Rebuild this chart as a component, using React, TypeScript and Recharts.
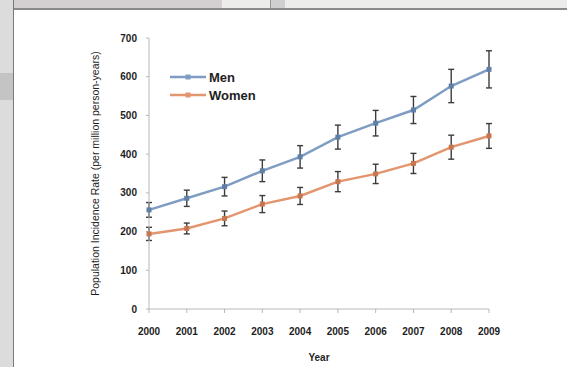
import React from 'react';
import { LineChart, Line, XAxis, YAxis, ErrorBar, Legend } from 'recharts';

// Population incidence rate per million person-years, by year and sex
const years = ['2000', '2001', '2002', '2003', '2004', '2005', '2006', '2007', '2008', '2009'];
const menRate = [256, 286, 316, 357, 393, 444, 480, 514, 576, 619];
const menError = [19, 21, 24, 28, 29, 31, 33, 35, 43, 48];
const womenRate = [194, 208, 234, 271, 292, 329, 349, 376, 418, 447];
const womenError = [17, 14, 19, 22, 22, 26, 25, 26, 31, 32];
const yTicks = [0, 100, 200, 300, 400, 500, 600, 700];

const data = years.map((year, i) => ({
  year,
  Men: menRate[i],
  menErr: menError[i],
  Women: womenRate[i],
  womenErr: womenError[i],
}));

const FONT = 'Arial, "Liberation Sans", sans-serif';
const AXIS_GRAY = '#b8b8b8';
const TEXT = '#1e1e1e';
const MEN = '#7f9dc2';
const WOMEN = '#e3956f';

const YTitle = (props: any) => {
  const vb = props.viewBox || {};
  const cx = vb.x + 6;
  const cy = vb.y + vb.height / 2;
  return (
    <text
      x={cx}
      y={cy}
      transform={`rotate(-90 ${cx} ${cy})`}
      textAnchor="middle"
      dominantBaseline="central"
      fontFamily={FONT}
      fontSize={10.5}
      fill={TEXT}
    >
      Population Incidence Rate (per million person-years)
    </text>
  );
};

const XTitle = (props: any) => {
  const vb = props.viewBox || {};
  return (
    <text
      x={vb.x + vb.width / 2}
      y={vb.y + vb.height + 8}
      textAnchor="middle"
      dominantBaseline="central"
      fontFamily={FONT}
      fontSize={10}
      fontWeight="bold"
      fill={TEXT}
    >
      Year
    </text>
  );
};

const LegendBox = (props: any) => {
  const items = props.payload || [];
  return (
    <div style={{ display: 'flex', flexDirection: 'column', gap: 4 }}>
      {items.map((it: any) => (
        <div key={it.value} style={{ display: 'flex', alignItems: 'center', height: 14 }}>
          <svg width={36} height={10} style={{ marginRight: 3 }}>
            <line x1={0} y1={5} x2={36} y2={5} stroke={it.color} strokeWidth={2.5} />
            <rect x={15.5} y={2.5} width={5} height={5} fill={it.color} />
          </svg>
          <span style={{ fontFamily: FONT, fontSize: 13, fontWeight: 'bold', color: TEXT }}>{it.value}</span>
        </div>
      ))}
    </div>
  );
};

const Square = (color: string) => (props: any) => {
  const { cx, cy, index } = props;
  if (cx == null || cy == null) return <g key={index} />;
  return <rect key={index} x={cx - 2.5} y={cy - 2.5} width={5} height={5} fill={color} />;
};

export default function App() {
  return (
    <div
      style={{
        position: 'absolute',
        left: 0,
        top: 0,
        width: 567,
        height: 367,
        background: '#ffffff',
        overflow: 'hidden',
      }}
    >
      {/* window frame around the chart */}
      <div style={{ position: 'absolute', left: 0, top: 0, width: 567, height: 8, background: '#ececea', borderBottom: '2px solid #8a8a8a' }} />
      <div style={{ position: 'absolute', left: 0, top: 0, width: 222, height: 8, background: '#d4d0d2' }} />
      <div style={{ position: 'absolute', left: 0, top: 0, width: 13, height: 367, background: '#dcdcdc', borderRight: '1px solid #7a7a7a' }} />
      <div style={{ position: 'absolute', left: 0, top: 73, width: 13, height: 27, background: '#c4c4c4' }} />
      <div style={{ position: 'absolute', left: 270, top: 0, width: 14, height: 8, background: '#cfcfcf', borderLeft: '1px solid #999' }} />

      <div style={{ position: 'absolute', left: 0, top: 0 }}>
        <LineChart
          width={567}
          height={367}
          data={data}
          margin={{ top: 38, right: 78, bottom: 18, left: 89 }}
        >
          <XAxis
            dataKey="year"
            height={40}
            stroke={AXIS_GRAY}
            tickSize={4}
            tickMargin={15}
            tick={{ fontFamily: FONT, fontSize: 10, fontWeight: 'bold', fill: TEXT }}
            interval={0}
            label={XTitle}
          />
          <YAxis
            width={60}
            domain={[0, 700]}
            ticks={yTicks}
            stroke={AXIS_GRAY}
            tickSize={3}
            tickMargin={9}
            tick={{ fontFamily: FONT, fontSize: 10, fontWeight: 'bold', fill: TEXT }}
            label={YTitle}
          />
          <Legend
            layout="vertical"
            verticalAlign="middle"
            align="center"
            content={LegendBox}
            wrapperStyle={{ position: 'absolute', left: 170, top: 70, width: 120 }}
          />
          <Line
            type="linear"
            dataKey="Men"
            stroke={MEN}
            strokeWidth={2.5}
            dot={Square('#5f7fa6')}
            activeDot={false}
            isAnimationActive={false}
          >
            <ErrorBar dataKey="menErr" direction="y" width={3} stroke="#3c3c3c" strokeWidth={1.4} isAnimationActive={false} />
          </Line>
          <Line
            type="linear"
            dataKey="Women"
            stroke={WOMEN}
            strokeWidth={2.5}
            dot={Square('#c87650')}
            activeDot={false}
            isAnimationActive={false}
          >
            <ErrorBar dataKey="womenErr" direction="y" width={3} stroke="#3c3c3c" strokeWidth={1.4} isAnimationActive={false} />
          </Line>
        </LineChart>
      </div>
    </div>
  );
}
